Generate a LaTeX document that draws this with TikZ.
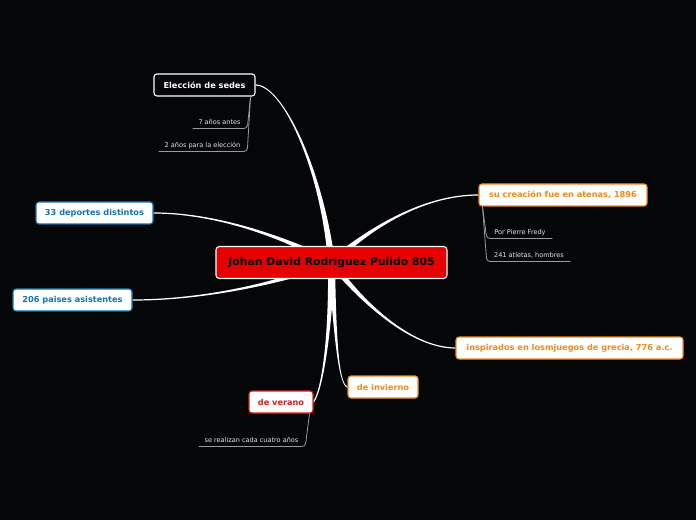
\documentclass[tikz,border=0pt]{standalone}
\usepackage{fontspec}
\setmainfont{DejaVu Sans}
\usetikzlibrary{calc}
\pgfdeclarelayer{bg}\pgfdeclarelayer{lines}\pgfsetlayers{bg,lines,main}
\definecolor{bgc}{HTML}{050608}
\definecolor{orng}{HTML}{F08A1E}
\definecolor{blu}{HTML}{1373B3}
\definecolor{redt}{HTML}{E01B1B}
\definecolor{redf}{HTML}{E60000}
\definecolor{subtxt}{HTML}{E8E8E8}
\definecolor{subln}{HTML}{9A9A9A}
% tapered connector: S, C1, C2, E, w0, w1, we
\newcommand{\taper}[7]{%
  \fill[white] ($#1!#5!90:#2$) .. controls ($#2!#6!-90:#1$) and ($#3!#7!90:#4$) .. ($#4!#7!-90:#3$)
    -- ($#4!#7!90:#3$) .. controls ($#3!#7!-90:#4$) and ($#2!#6!90:#1$) .. ($#1!#5!-90:#2$) -- cycle;}
\tikzset{
  box/.style={draw, rounded corners=2.2pt, line width=0.8pt, minimum height=16.5pt, inner sep=0pt,
    font=\fontsize{6.15}{7}\selectfont\bfseries, fill=white},
  orbox/.style={box, draw=orng, text=orng},
  blbox/.style={box, draw=blu, text=blu},
  subnode/.style={anchor=south, inner xsep=0pt, inner ysep=1.6pt, text height=3.6pt, text depth=1pt,
    font=\fontsize{4.9}{5.5}\selectfont, text=subtxt},
  subline/.style={draw=subln, line width=0.6pt, rounded corners=2.5pt},
}
\begin{document}
\begin{tikzpicture}[x=0.75pt,y=-0.75pt]
\begin{pgfonlayer}{bg}
  \fill[bgc] (0,0) rectangle (696,520);
\end{pgfonlayer}
\useasboundingbox (0,0) rectangle (696,520);

% main node
\node[draw=white, fill=redf, rounded corners=2.5pt, line width=0.8pt, minimum width=173.25pt, minimum height=24pt,
  inner sep=0pt, font=\fontsize{8.1}{9}\selectfont\bfseries, text=black] (c) at (331.5,262.5) {Johan David Rodriguez Pulido 805};

% branch nodes
\node[box, fill=bgc, draw=white, text=white, minimum width=75.75pt] (elec) at (204.5,85) {Elección de sedes};
\node[orbox, minimum width=126pt] (aten) at (563,195) {su creación fue en atenas, 1896};
\node[blbox, minimum width=87.75pt] (dep) at (94.5,213) {33 deportes distintos};
\node[blbox, minimum width=89.25pt] (pai) at (72.5,300) {206 paises asistentes};
\node[orbox, minimum width=170.25pt] (insp) at (569.5,348) {inspirados en losmjuegos de grecia, 776 a.c.};
\node[orbox, minimum width=52.5pt] (inv) at (383,387) {de invierno};
\node[box, draw=redt, text=redt, minimum width=48pt] (ver) at (281,402) {de verano};

% sub nodes
\node[subnode, minimum width=39.75pt] (s1) at (219.5,128.5) {7 años antes};
\node[subnode, minimum width=65.25pt] (s2) at (202.5,151.5) {2 años para la elección};
\node[subnode, minimum width=48pt] (s3) at (520,238.5) {Por Pierre Fredy};
\node[subnode, minimum width=61.5pt] (s4) at (529,261.5) {241 atletas, hombres};
\node[subnode, minimum width=78.75pt] (s5) at (251.5,446.5) {se realizan cada cuatro años};

\begin{pgfonlayer}{lines}
  \taper{(c)}{(322,170)}{(283,85)}{(elec.east)}{2.6pt}{0.85pt}{0.45pt}
  \taper{(c)}{(365,232)}{(420,195)}{(aten.west)}{2.6pt}{0.85pt}{0.45pt}
  \taper{(c)}{(290,240)}{(220,213)}{(dep.east)}{2.6pt}{0.85pt}{0.45pt}
  \taper{(c)}{(290,280)}{(210,300)}{(pai.east)}{2.6pt}{0.85pt}{0.45pt}
  \taper{(c)}{(360,300)}{(410,348)}{(insp.west)}{2.6pt}{0.85pt}{0.45pt}
  \taper{(c)}{(335,330)}{(338,385)}{(inv.west)}{2.6pt}{0.85pt}{0.45pt}
  \taper{(c)}{(330,340)}{(322,390)}{(ver.east)}{2.6pt}{0.85pt}{0.45pt}
\end{pgfonlayer}

% sub connectors
\draw[subline] ($(elec.south east)+(-5,0)$) -- ($(s1.south east)+(1,0)$) -- (s1.south west);
\draw[subline] ($(elec.south east)+(-5,0)$) -- ($(s2.south east)+(1,0)$) -- (s2.south west);
\draw[subline] ($(aten.south west)+(4,0)$) -- ($(s3.south west)+(-1,0)$) -- (s3.south east);
\draw[subline] ($(aten.south west)+(4,0)$) -- ($(s4.south west)+(-1,0)$) -- (s4.south east);
\draw[subline] ($(ver.south east)+(-4,0)$) -- ($(s5.south east)+(1,0)$) -- (s5.south west);
\end{tikzpicture}
\end{document}
